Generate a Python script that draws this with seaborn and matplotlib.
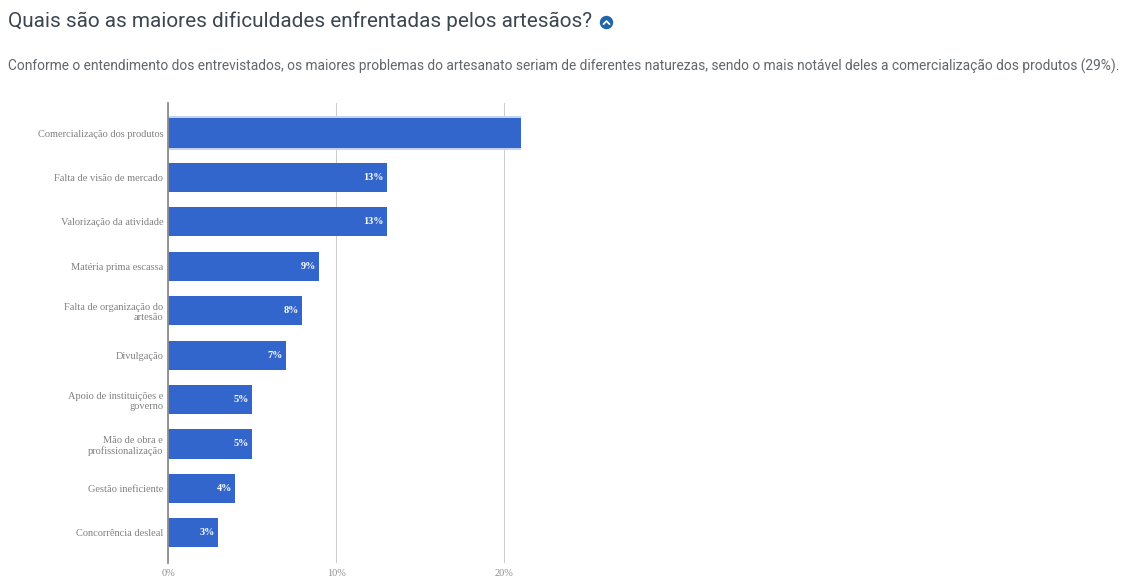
import matplotlib
matplotlib.use("Agg")
import matplotlib.pyplot as plt
from matplotlib.patches import Circle, Rectangle
from matplotlib.lines import Line2D
from matplotlib.transforms import IdentityTransform
import seaborn as sns
import pandas as pd

categories = [
    "Comercialização dos produtos",
    "Falta de visão de mercado",
    "Valorização da atividade",
    "Matéria prima escassa",
    "Falta de organização do\nartesão",
    "Divulgação",
    "Apoio de instituições e\ngoverno",
    "Mão de obra e\nprofissionalização",
    "Gestão ineficiente",
    "Concorrência desleal",
]
percentages = [29, 13, 13, 9, 8, 7, 5, 5, 4, 3]
x_ticks = [0, 10, 20]
title_text = "Quais são as maiores dificuldades enfrentadas pelos artesãos?"
subtitle_text = (
    "Conforme o entendimento dos entrevistados, os maiores problemas do artesanato "
    "seriam de diferentes naturezas, sendo o mais notável deles a comercialização "
    "dos produtos (29%)."
)

W, H = 1128, 577
BAR_BLUE = "#3366CC"
sns.set_theme(style="white")
plt.rcParams["font.family"] = ["Liberation Serif", "DejaVu Serif"]

fig = plt.figure(figsize=(W / 100, H / 100), dpi=100, facecolor="white")
ax = fig.add_axes([168 / W, 1 - 563 / H, (521 - 168) / W, 460 / H])

df = pd.DataFrame({"categoria": categories, "percentual": percentages})
sns.barplot(data=df, y="categoria", x="percentual", orient="h", color=BAR_BLUE,
            saturation=1, width=0.655, ax=ax, zorder=3)

ax.set_xlim(0, 21)
ax.set_ylim(9.68, -0.676)
ax.set_xlabel("")
ax.set_ylabel("")
ax.set_xticks(x_ticks, [f"{v}%" for v in x_ticks])
ax.tick_params(axis="x", length=0, labelsize=7.5, labelcolor="#8f8f8f", pad=4.5)
ax.tick_params(axis="y", length=0, labelsize=7.45, labelcolor="#808080", pad=3.5)
for lab in ax.get_yticklabels():
    lab.set_linespacing(1.2)
ax.grid(axis="x", color="#cccccc", linewidth=0.75, zorder=0)
ax.grid(axis="y", visible=False)
for side in ("top", "right", "bottom"):
    ax.spines[side].set_visible(False)
ax.spines["left"].set_color("#8c8c8c")
ax.spines["left"].set_linewidth(1.3)
ax.spines["left"].set_zorder(5)

bars = ax.containers[0]
for bar, value in zip(bars, percentages):
    bar.set_linewidth(0)
    # Values beyond the axis limit keep their bar clipped and carry no inner label
    if value <= 21:
        ax.annotate(f"{value}%", (value, bar.get_y() + bar.get_height() / 2),
                    xytext=(-2.2, 0), textcoords="offset points", ha="right", va="center",
                    color="white", fontsize=7.4, fontweight="bold", zorder=6)

# Selection halo around the leading bar
top_bar = bars[0]
ax.add_patch(Rectangle((0, top_bar.get_y() - 0.05), 21, top_bar.get_height() + 0.1,
                       facecolor="#c3d3f2", edgecolor="none", zorder=2))

fig.text(8 / W, 1 - 21 / H, title_text, family="Roboto", fontsize=14.97, color="#3d4650",
         va="center", ha="left")
fig.text(8 / W, 1 - 66.5 / H, subtitle_text, family="Roboto", fontsize=9.95, color="#62676c",
         va="center", ha="left")

# Collapse icon beside the heading, positioned in pixels
cx, cy, r = 606.5, 22.5, 6
py = H - cy
fig.add_artist(Circle((cx, py), r, transform=IdentityTransform(), color="#1f66ad", zorder=4))
fig.add_artist(Line2D([cx - 3, cx, cx + 3], [py - 1.6, py + 1.4, py - 1.6],
                      transform=IdentityTransform(), color="white", linewidth=1.3, zorder=5))

fig.savefig("out.png", dpi=100, facecolor="white")
